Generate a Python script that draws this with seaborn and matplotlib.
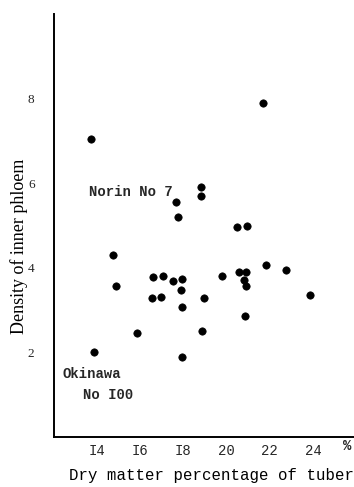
import matplotlib
matplotlib.use("Agg")
import matplotlib.pyplot as plt
import seaborn as sns
import pandas as pd

# Dry matter percentage of tuber (%)
dry_matter = [13.7, 21.7, 18.8, 18.8, 17.65, 17.75, 20.5, 20.95,
              14.75, 14.85, 16.6, 17.05, 17.5, 17.95, 17.9, 16.55, 16.95,
              17.95, 18.95, 19.8, 20.55, 20.9, 20.8, 20.9, 21.8, 22.75,
              23.85, 20.85, 15.85, 18.85, 13.85, 17.95]
# Density of inner phloem
density = [7.04, 7.9, 5.91, 5.69, 5.55, 5.2, 4.96, 4.99,
           4.3, 3.56, 3.79, 3.8, 3.68, 3.73, 3.47, 3.29, 3.3,
           3.07, 3.29, 3.81, 3.9, 3.91, 3.71, 3.57, 4.07, 3.95,
           3.36, 2.87, 2.46, 2.5, 2.0, 1.88]

x_ticks = [14, 16, 18, 20, 22, 24]
x_tick_labels = ["I4", "I6", "I8", "20", "22", "24"]
y_ticks = [2, 4, 6, 8]
y_tick_labels = ["2", "4", "6", "8"]

df = pd.DataFrame({"dry": dry_matter, "dens": density})

sns.set_style("white")
fig = plt.figure(figsize=(3.54, 4.87), dpi=100)
ax = fig.add_axes([54 / 354, 50 / 487, 300 / 354, 423 / 487])

sns.scatterplot(data=df, x="dry", y="dens", ax=ax, color="black",
                s=28, edgecolor="black", linewidth=0.5, legend=False)

ax.set_xlim(12, 25.9)
ax.set_ylim(0, 10)
ax.set_xticks(x_ticks)
ax.set_xticklabels(x_tick_labels, family="Liberation Mono", fontsize=10)
ax.set_yticks(y_ticks)
ax.set_yticklabels(y_tick_labels, family="Liberation Serif", fontsize=9.5)
ax.tick_params(axis="y", length=0, pad=14)
ax.tick_params(axis="x", length=0, pad=5)

# percent sign at end of x axis
ax.text(25.6, -0.05, "%", family="Liberation Mono", fontsize=10,
        fontweight="bold", ha="center", va="top")

for side in ["top", "right"]:
    ax.spines[side].set_visible(False)
for side in ["left", "bottom"]:
    ax.spines[side].set_color("black")
    ax.spines[side].set_linewidth(1.4)

ax.set_xlabel("Dry matter percentage of tuber", family="Liberation Mono",
              fontsize=11.3, color="black")
ax.xaxis.set_label_coords((212 - 54) / 300, -31 / 423)
ax.set_ylabel("Density of inner phloem", family="Liberation Serif",
              fontsize=13, color="black")
ax.yaxis.set_label_coords(-26 / 300, 0.45)

ax.text(13.6, 5.8, "Norin No 7", family="Liberation Mono", fontsize=10,
        fontweight="bold", ha="left", va="center")
ax.text(12.4, 1.5, "Okinawa", family="Liberation Mono", fontsize=10,
        fontweight="bold", ha="left", va="center")
ax.text(13.35, 1.0, "No I00", family="Liberation Mono", fontsize=10,
        fontweight="bold", ha="left", va="center")

fig.savefig("out.png", dpi=100, facecolor="white")
